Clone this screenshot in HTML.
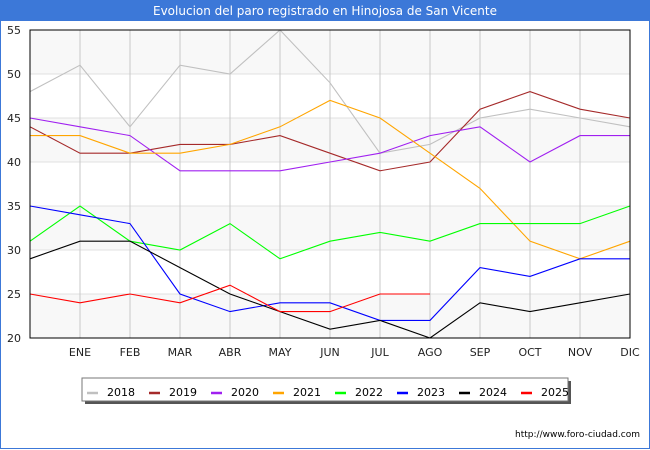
<!DOCTYPE html>
<html><head><meta charset="utf-8"><style>
body{margin:0;background:#fff;font-family:"DejaVu Sans","Liberation Sans",sans-serif;}
#wrap{position:relative;width:648px;height:448px;border:1px solid #3c78d8;border-top:none;}
#title{position:absolute;left:0;top:0;width:648px;height:21px;background:#3c78d8;color:#fff;font-size:12px;line-height:22px;text-align:center;}
svg{position:absolute;left:-1px;top:0;}
</style></head><body>
<div id="wrap">
<div id="title">Evolucion del paro registrado en Hinojosa de San Vicente</div>
<svg id="chart" width="650" height="450"></svg>
</div>
<script>
const months=["","ENE","FEB","MAR","ABR","MAY","JUN","JUL","AGO","SEP","OCT","NOV","DIC"];
const yTicks=[20,25,30,35,40,45,50,55];
const years=["2018","2019","2020","2021","2022","2023","2024","2025"];
const colors=["#c0c0c0","#a52a2a","#a020f0","#ffa500","#00ff00","#0000ff","#000000","#ff0000"];
const s2018=[48,51,44,51,50,55,49,41,42,45,46,45,44];
const s2019=[44,41,41,42,42,43,41,39,40,46,48,46,45];
const s2020=[45,44,43,39,39,39,40,41,43,44,40,43,43];
const s2021=[43,43,41,41,42,44,47,45,41,37,31,29,31];
const s2022=[31,35,31,30,33,29,31,32,31,33,33,33,35];
const s2023=[35,34,33,25,23,24,24,22,22,28,27,29,29];
const s2024=[29,31,31,28,25,23,21,22,20,24,23,24,25];
const s2025=[25,24,25,24,26,23,23,25,25];
const series=[s2018,s2019,s2020,s2021,s2022,s2023,s2024,s2025];

const svg=document.getElementById('chart');
const NS="http://www.w3.org/2000/svg";
const L=30,R=630,T=30,B=338,ymin=20,ymax=55;
const x=i=>L+i*(R-L)/(months.length-1);
const y=v=>B-(v-ymin)*(B-T)/(ymax-ymin);
function mk(t,a){const e=document.createElementNS(NS,t);for(const k in a)e.setAttribute(k,a[k]);svg.appendChild(e);return e;}
for(let i=0;i<yTicks.length-1;i++){
  if(i%2===0){const b=mk('rect',{x:L,y:y(yTicks[i+1]),width:R-L,height:y(yTicks[i])-y(yTicks[i+1]),fill:'#f8f8f8'});
  
  }
}
yTicks.forEach(v=>{
  const g=mk('line',{x1:L,x2:R,y1:y(v),y2:y(v),stroke:'#e0e0e0'});
  
  
  const t=mk('text',{x:L-9,y:y(v)+4,'text-anchor':'end','font-size':11,fill:'#222'});t.textContent=v;
  
  
});
months.forEach((m,i)=>{
  if(i===0)return;
  const g=mk('line',{x1:x(i),x2:x(i),y1:T,y2:B,stroke:'#c8c8c8'});
  
  
  const t=mk('text',{x:x(i),y:356,'text-anchor':'middle','font-size':11,fill:'#222'});t.textContent=m;
  
  
});
series.forEach((s,k)=>{
  const p=mk('polyline',{points:s.map((v,i)=>x(i)+','+y(v)).join(' '),fill:'none',stroke:colors[k],'stroke-width':1.1});
  
  
});
const fr=mk('rect',{x:L,y:T,width:R-L,height:B-T,fill:'none',stroke:'#000'});


const sh=mk('rect',{x:85,y:381,width:486,height:23,fill:'#555'});


const lb=mk('rect',{x:82,y:378,width:486,height:23,fill:'#fff',stroke:'#777'});


years.forEach((yr,k)=>{
  const lx=87+k*62;
  const sw=mk('line',{x1:lx,x2:lx+11,y1:393,y2:393,stroke:colors[k],'stroke-width':2.5});
  
  
  const t=mk('text',{x:lx+20,y:396,'font-size':11,fill:'#000'});t.textContent=yr;
  
  
});
const f=mk('text',{x:640,y:437,'text-anchor':'end','font-size':9,fill:'#000'});f.textContent='http://www.foro-ciudad.com';


</script>
</body></html>
